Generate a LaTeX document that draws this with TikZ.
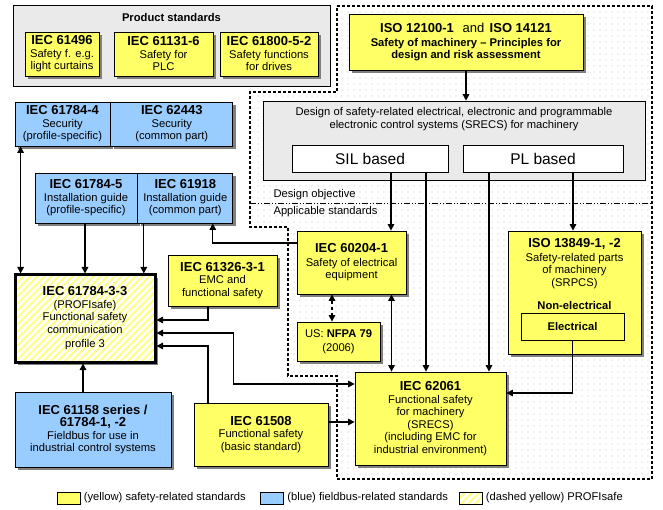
\documentclass[tikz,border=0pt]{standalone}
\usepackage{fontspec}
\setmainfont{Liberation Sans}
\usepackage{tikz}
\usetikzlibrary{positioning,arrows.meta,shadows,patterns,calc}
\definecolor{stdyellow}{HTML}{FFFF66}
\definecolor{busblue}{HTML}{99CCFF}
\definecolor{panelgray}{HTML}{EAEAEA}
\definecolor{dotgray}{HTML}{C4C4C4}
\pgfdeclarepatternformonly{sparsedots}{\pgfqpoint{-1pt}{-1pt}}{\pgfqpoint{1pt}{1pt}}{\pgfqpoint{6pt}{6pt}}{\pgfpathcircle{\pgfqpoint{0pt}{0pt}}{0.55pt}\pgfusepath{fill}}
\pgfdeclarepatternformonly{safehatch}{\pgfqpoint{-1pt}{-1pt}}{\pgfqpoint{8pt}{8pt}}{\pgfqpoint{7pt}{7pt}}{\pgfsetlinewidth{2pt}\pgfpathmoveto{\pgfqpoint{-1pt}{-1pt}}\pgfpathlineto{\pgfqpoint{8pt}{8pt}}\pgfusepath{stroke}}
\newcommand{\hd}[1]{{\fontsize{13}{15}\selectfont\bfseries #1}}

\begin{document}
\begin{tikzpicture}[
    x=1pt, y=-1pt,
    every node/.style={font=\fontsize{11.2}{12.5}\selectfont},
    sz/.style 2 args={minimum width=#1pt, minimum height=#2pt},
    shade/.style={drop shadow={shadow xshift=3pt, shadow yshift=-3pt, fill=black!50, opacity=1}},
    ybox/.style={draw, line width=0.8pt, fill=stdyellow, align=center, inner sep=1pt, shade},
    bbox/.style={draw, line width=0.8pt, fill=busblue, align=center, inner sep=1pt, shade},
    wbox/.style={draw, line width=0.6pt, fill=white, inner sep=1pt},
    panel/.style={draw, line width=0.6pt, fill=panelgray, inner sep=0pt},
    swatch/.style={draw, line width=0.6pt, sz={23}{12}, inner sep=0pt},
    arr/.style={-{Triangle[length=6.5pt, width=6.5pt]}, line width=1.3pt},
    dblarr/.style={{Triangle[length=6.5pt, width=6.5pt]}-{Triangle[length=6.5pt, width=6.5pt]}, line width=1.3pt},
]
    \useasboundingbox[fill=white] (0,0) rectangle (663,510);

    % machinery region
    \path[pattern=sparsedots, pattern color=dotgray]
        (337,6) -- (652,6) -- (652,479) -- (337,479) -- (337,376) -- (288,376)
        -- (288,227) -- (250,227) -- (250,92) -- (337,92) -- cycle;
    \draw[line width=1.2pt, dash pattern=on 3pt off 2pt]
        (337,6) -- (652,6) -- (652,479) -- (337,479) -- (337,376) -- (288,376)
        -- (288,227) -- (250,227) -- (250,92) -- (337,92) -- cycle;

    % product standards
    \node[panel, sz={317}{81}] (prod) at (171.5,45.5) {};
    \node[font=\fontsize{11.2}{12.5}\selectfont\bfseries] at (171.5,18) {Product standards};
    \node[ybox, sz={74}{44}] (p1) at (62,54) {\hd{IEC 61496}\\Safety f. e.g.\\light curtains};
    \node[ybox, sz={99}{44}] (p2) at (163.5,54) {\hd{IEC 61131-6}\\Safety for\\PLC};
    \node[ybox, sz={98}{44}] (p3) at (269,54) {\hd{IEC 61800-5-2}\\Safety functions\\for drives};

    % machinery
    \node[ybox, sz={234}{56}] (iso) at (466,42)
        {\hd{ISO 12100-1} {\fontsize{13}{15}\selectfont\, and\,} \hd{ISO 14121}\\[1pt]
         \textbf{Safety of machinery -- Principles for}\\\textbf{design and risk assessment}};
    \node[panel, sz={382}{79}] (design) at (454,140.5) {};
    \node[align=center] at (454,119)
        {Design of safety-related electrical, electronic and programmable\\electronic control systems (SRECS) for machinery};
    \node[wbox, sz={156}{27}, font=\fontsize{15.5}{17}\selectfont] (sil) at (370,158.5) {SIL based};
    \node[wbox, sz={160}{27}, font=\fontsize{15.5}{17}\selectfont] (pl) at (543,158.5) {PL based};

    \draw[line width=0.8pt, dash pattern=on 6pt off 2pt on 1pt off 2pt on 1pt off 2pt] (250,203) -- (652,203);
    \node[anchor=west] at (270,195) {Design objective};
    \node[anchor=west] at (270,212) {Applicable standards};

    \node[ybox, sz={109}{63}] (n60204) at (351.5,262.5) {\hd{IEC 60204-1}\\[1pt]Safety of electrical\\equipment};
    \node[ybox, sz={83}{39}] (nfpa) at (338.5,341.5) {US: \textbf{NFPA 79}\\[2pt](2006)};
    \node[ybox, sz={133}{123}] (n13849) at (574.5,292.5) {};
    \node[anchor=north, align=center] at (574.5,235) {\hd{ISO 13849-1, -2}\\[1pt]Safety-related parts\\of machinery\\(SRPCS)};
    \node[font=\fontsize{11.2}{12.5}\selectfont\bfseries] at (574.5,305) {Non-electrical};
    \node[draw, line width=0.8pt, fill=stdyellow, sz={103}{27}, font=\fontsize{11.2}{12.5}\selectfont\bfseries] (elec) at (572.5,326.5) {Electrical};
    \node[ybox, sz={151}{93}] (n62061) at (430.5,418.5)
        {\hd{IEC 62061}\\Functional safety\\for machinery\\(SRECS)\\(including EMC for\\industrial environment)};

    % fieldbus side
    \node[bbox, sz={95}{44}] (n617844) at (62.5,124) {\hd{IEC 61784-4}\\Security\\(profile-specific)};
    \node[bbox, sz={122}{44}, right=0pt of n617844] (n62443) {\hd{IEC 62443}\\Security\\(common part)};
    \node[bbox, sz={102}{50}] (n617845) at (86,198) {\hd{IEC 61784-5}\\Installation guide\\(profile-specific)};
    \node[bbox, sz={95}{50}, right=0pt of n617845] (n61918) {\hd{IEC 61918}\\Installation guide\\(common part)};

    \node[draw, line width=3pt, sz={140}{87}, align=center, shade,
          preaction={fill=white}, pattern=safehatch, pattern color=stdyellow!80] (n617843) at (85,318.5) {};
    \node[align=center] at (85,318.5) {\hd{IEC 61784-3-3}\\(PROFIsafe)\\Functional safety\\communication\\[2pt]profile 3};
    \node[ybox, sz={109}{51}] (n61326) at (222.5,280.5) {\hd{IEC 61326-3-1}\\EMC and\\functional safety};
    \node[ybox, sz={134}{63}] (n61508) at (261,434.5) {\hd{IEC 61508}\\Functional safety\\(basic standard)};
    \node[bbox, sz={156}{75}] (n61158) at (93,429.5) {\hd{IEC 61158 series /}\\\hd{61784-1, -2}\\Fieldbus for use in\\industrial control systems};

    % connectors
    \draw[arr] (iso.south) -- (iso.south |- design.north);
    \draw[arr] ([xshift=21pt]sil.south) -- ([xshift=21pt]sil.south |- n60204.north);
    \draw[arr] ([xshift=56pt]sil.south) -- ([xshift=56pt]sil.south |- n62061.north);
    \draw[arr] ([xshift=-54pt]pl.south) -- ([xshift=-54pt]pl.south |- n62061.north);
    \draw[arr] ([xshift=30pt]pl.south) -- ([xshift=30pt]pl.south |- n13849.north);
    \draw[dblarr] ([xshift=40pt]n60204.south) -- ([xshift=40pt]n60204.south |- n62061.north);
    \draw[dblarr, dashed] ([xshift=-19.5pt]n60204.south) -- ([xshift=-19.5pt]n60204.south |- nfpa.north);
    \draw[arr] (elec.south) |- ([yshift=25.5pt]n62061.east);
    \draw[arr] ([yshift=19.5pt]n60204.west) -| ([xshift=27.5pt]n61918.south);

    \draw[dblarr] ([xshift=6pt]n617844.south west) -- ([xshift=6pt]n617844.south west |- n617843.north);
    \draw[arr] ([xshift=-1pt]n617845.south) -- ([xshift=-1pt]n617845.south |- n617843.north);
    \draw[arr] ([xshift=-41.5pt]n61918.south) -- ([xshift=-41.5pt]n61918.south |- n617843.north);
    \draw[arr] ([xshift=-14.5pt]n61326.south) |- ([yshift=-1.5pt]n617843.east);
    \draw[dblarr] ([yshift=-14.5pt]n617843.east) -- ++(77,0) |- ([yshift=34.5pt]n62061.west);
    \draw[arr] ([xshift=-53pt]n61508.north) |- ([yshift=-27.5pt]n617843.east);
    \draw[arr] ([yshift=12.5pt]n61508.east) -- ([yshift=12.5pt]n61508.east -| n62061.west);
    \draw[arr] ([xshift=-10pt]n61158.north) -- ([xshift=-10pt]n61158.north |- n617843.south);

    % legend
    \node[swatch, fill=stdyellow] (ly) at (68.5,498) {};
    \node[anchor=west] at (ly.east) {(yellow) safety-related standards};
    \node[swatch, fill=busblue] (lb) at (272,498) {};
    \node[anchor=west] at (lb.east) {(blue) fieldbus-related standards};
    \node[swatch, preaction={fill=white}, pattern=safehatch, pattern color=stdyellow!80] (lh) at (470.5,498) {};
    \node[anchor=west] at (lh.east) {(dashed yellow) PROFIsafe};
\end{tikzpicture}
\end{document}
